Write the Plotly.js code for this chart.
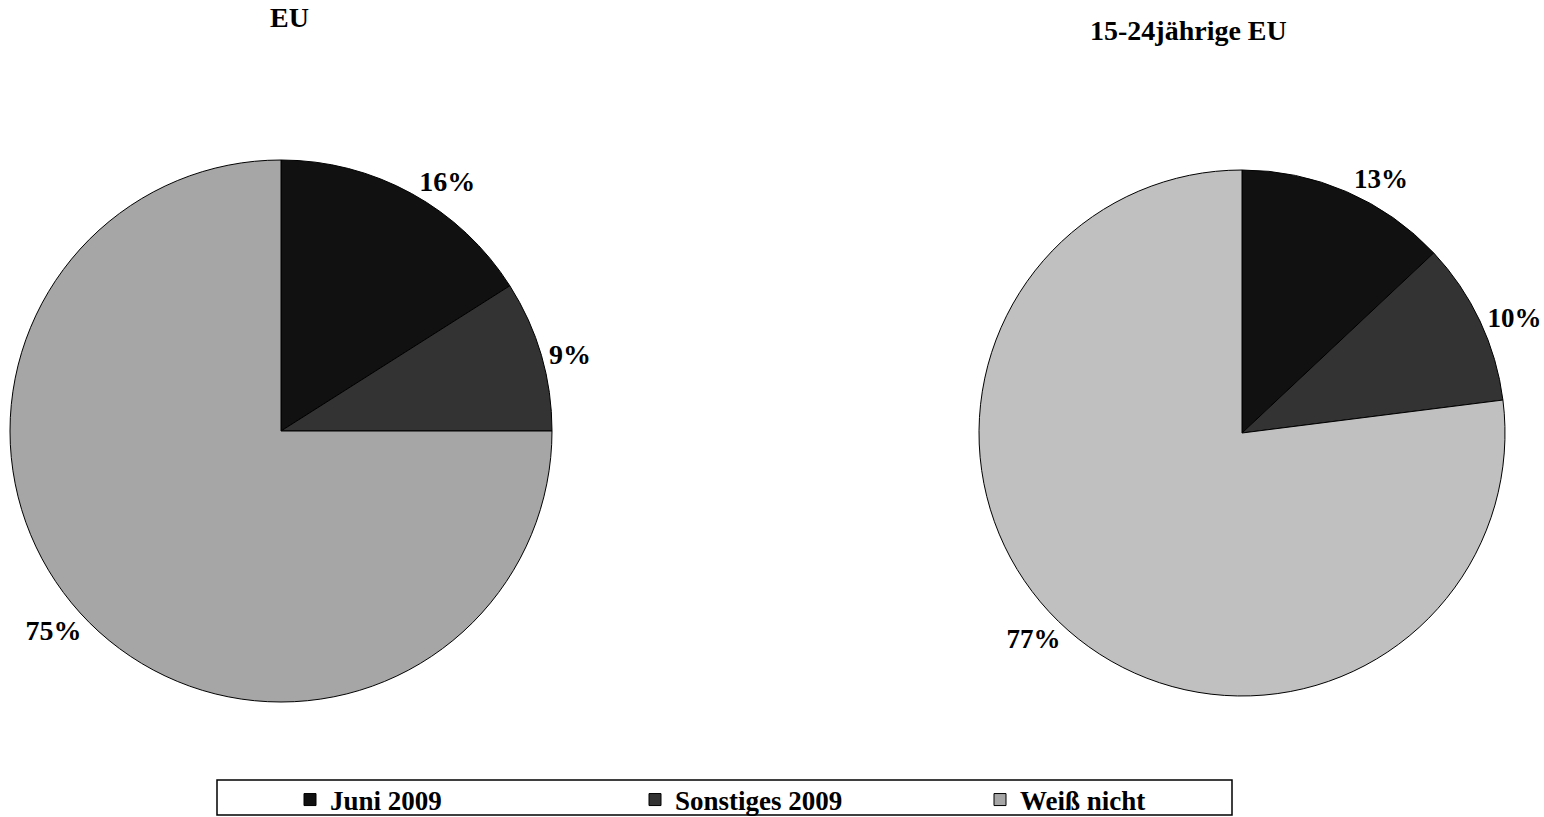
<!DOCTYPE html>
<html>
<head>
<meta charset="utf-8">
<script src="https://cdn.plot.ly/plotly-3.0.1.min.js"></script>
<style>html,body{margin:0;padding:0;background:#fff;overflow:hidden;}#chart{width:1544px;height:817px;}</style>
</head>
<body>
<div id="chart"></div>
<script>
const labels = ['Juni 2009', 'Sonstiges 2009', 'Weiß nicht'];
const euValues = [16, 9, 75];
const youthValues = [13, 10, 77];
const chartTitles = ['EU', '15-24jährige EU'];
const euColors = ['#111111', '#333333', '#a6a6a6'];
const youthColors = ['#111111', '#333333', '#c0c0c0'];

const W = 1544, H = 817;
const px = v => v / W;
const py = v => 1 - v / H;
const serif = 'Liberation Serif, Times New Roman, serif';

const traces = [
  {
    type: 'pie', labels: labels, values: euValues, sort: false,
    direction: 'clockwise', rotation: 0,
    marker: {colors: euColors, line: {color: '#000', width: 1}},
    texttemplate: '%{value}%', textposition: 'outside',
    textfont: {family: serif, size: 28, color: '#000', weight: 'bold'},
    domain: {x: [px(10), px(552)], y: [py(702), py(160)]},
    automargin: false, hoverinfo: 'label+value'
  },
  {
    type: 'pie', labels: labels, values: youthValues, sort: false,
    direction: 'clockwise', rotation: 0,
    marker: {colors: youthColors, line: {color: '#000', width: 1}},
    texttemplate: '%{value}%', textposition: 'outside',
    textfont: {family: serif, size: 27, color: '#000', weight: 'bold'},
    domain: {x: [px(979), px(1505)], y: [py(696), py(170)]},
    automargin: false, hoverinfo: 'label+value'
  }
];

const layout = {
  width: W, height: H,
  margin: {l: 0, r: 0, t: 0, b: 0, autoexpand: false},
  paper_bgcolor: '#fff', plot_bgcolor: '#fff',
  showlegend: true,
  legend: {
    orientation: 'h', x: px(290), xanchor: 'left', y: py(800), yanchor: 'middle',
    font: {family: serif, size: 27, color: '#000', weight: 'bold'},
    entrywidth: 300, entrywidthmode: 'pixels',
    bgcolor: 'rgba(0,0,0,0)', borderwidth: 0
  },
  shapes: [
    {type: 'rect', xref: 'paper', yref: 'paper', x0: px(217), x1: px(1232), y0: py(815), y1: py(780),
     line: {color: '#000', width: 1.5}, fillcolor: 'rgba(0,0,0,0)'}
  ],
  annotations: [
    {text: chartTitles[0], xref: 'paper', yref: 'paper', x: px(289), y: py(18), xanchor: 'center', yanchor: 'middle',
     showarrow: false, font: {family: serif, size: 28, color: '#000', weight: 'bold'}},
    {text: chartTitles[1], xref: 'paper', yref: 'paper', x: px(1188), y: py(30), xanchor: 'center', yanchor: 'middle',
     showarrow: false, font: {family: serif, size: 28, color: '#000', weight: 'bold'}}
  ]
};

Plotly.newPlot('chart', traces, layout, {displayModeBar: false, staticPlot: true});
</script>
</body>
</html>
